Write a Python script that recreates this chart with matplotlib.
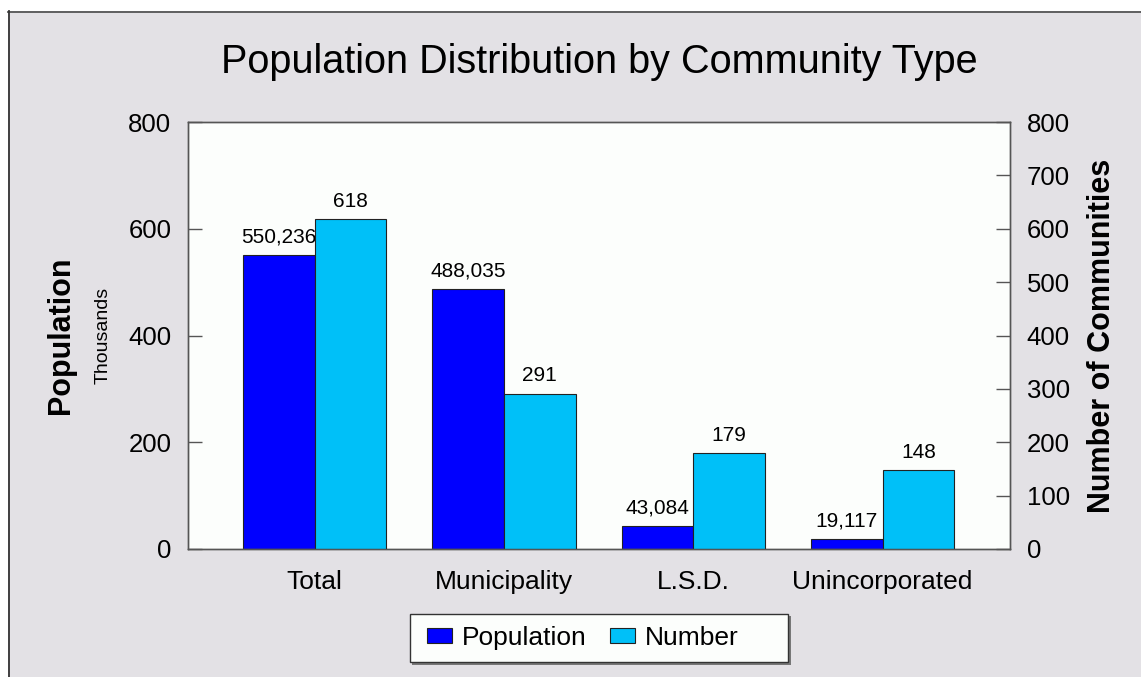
import matplotlib.pyplot as plt
import numpy as np
from matplotlib.patches import Rectangle
from matplotlib.lines import Line2D

# population counts and number of communities per community type
categories = ['Total', 'Municipality', 'L.S.D.', 'Unincorporated']
population = [550236, 488035, 43084, 19117]
communities = [618, 291, 179, 148]
pop_ticks = [0, 200, 400, 600, 800]
num_ticks = [0, 100, 200, 300, 400, 500, 600, 700, 800]

plt.rcParams['font.family'] = ['Liberation Sans', 'DejaVu Sans']

W, H = 1141, 677
fig = plt.figure(figsize=(W / 100, H / 100), dpi=100)
fig.patch.set_facecolor('white')


def px_box(x0, y0, x1, y1, **kw):
    # rectangle given in pixels from the top-left corner
    return Rectangle((x0 / W, 1 - y1 / H), (x1 - x0) / W, (y1 - y0) / H,
                     transform=fig.transFigure, **kw)


# gray panel behind the chart, with its top and left border
fig.patches.append(px_box(8, 11, W + 5, H + 5, facecolor='#e3e1e5', edgecolor='none', zorder=-2))
fig.lines.append(Line2D([8 / W, 1], [(H - 11.5) / H] * 2, transform=fig.transFigure,
                        color='#555555', lw=1.3, zorder=-1))
fig.lines.append(Line2D([8.5 / W] * 2, [0, (H - 11) / H], transform=fig.transFigure,
                        color='#333333', lw=1.3, zorder=-1))

ax = fig.add_axes([188 / W, (H - 549) / H, 822 / W, 427 / H])
ax.set_facecolor('#fcfefc')
ax2 = ax.twinx()

x = np.arange(len(categories))
w = 0.379
pop_k = np.array(population) / 1000
b1 = ax.bar(x - w / 2, pop_k, w, color='#0000ff', edgecolor='#222222', lw=0.8, label='Population')
b2 = ax2.bar(x + w / 2, communities, w, color='#00c0f8', edgecolor='#222222', lw=0.8, label='Number')

for xi, v, p in zip(x, pop_k, population):
    ax.annotate(f'{p:,}', (xi - w / 2, v), xytext=(0, 9), textcoords='offset points',
                ha='center', va='baseline', fontsize=15)
for xi, n in zip(x, communities):
    ax2.annotate(f'{n}', (xi + w / 2, n), xytext=(0, 9), textcoords='offset points',
                 ha='center', va='baseline', fontsize=15)

ax.set_xlim(-0.669, 3.673)
ax.set_ylim(0, 800)
ax2.set_ylim(0, 800)
ax.set_yticks(pop_ticks)
ax2.set_yticks(num_ticks)
ax.set_xticks(x, categories)

ax.tick_params(axis='x', length=0, pad=15, labelsize=19)
ax.tick_params(axis='y', direction='in', length=10, width=1, color='#555555', pad=12, labelsize=18.5)
ax2.tick_params(axis='y', direction='in', length=10, width=1, color='#555555', pad=12, labelsize=18.5)

for a in (ax, ax2):
    for s in a.spines.values():
        s.set_color('#555555')
        s.set_linewidth(1)

fig.text(599 / W, 1 - 73 / H, 'Population Distribution by Community Type',
         ha='center', va='baseline', fontsize=28.5)
yc = (H - 335.5) / H
fig.text(60.5 / W, yc, 'Population', rotation=90, ha='center', va='center',
         fontsize=22, fontweight='bold')
fig.text(103.5 / W, yc, 'Thousands', rotation=90, ha='center', va='center', fontsize=14)
fig.text(1101.5 / W, yc, 'Number of Communities', rotation=90, ha='center', va='center',
         fontsize=22, fontweight='bold')

# legend box with a drop shadow, legend entries placed inside it
fig.patches.append(px_box(412, 616, 791, 665, facecolor='#777777', edgecolor='none', zorder=3))
fig.patches.append(px_box(410, 614, 788, 662, facecolor='#fcfefc', edgecolor='#333333',
                          lw=1, zorder=4))
leg = fig.legend(handles=[b1, b2], loc='center left', bbox_to_anchor=(427 / W, (H - 638) / H),
                 ncol=2, fontsize=19, frameon=False, handlelength=0.95, handleheight=0.53,
                 handletextpad=0.38, columnspacing=0.88, borderpad=0, borderaxespad=0)
leg.set_zorder(5)

fig.savefig('out.png', dpi=100)
